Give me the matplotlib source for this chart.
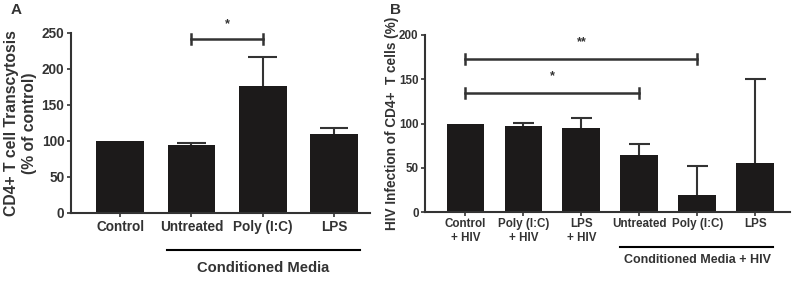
import matplotlib
matplotlib.use("Agg")
import matplotlib.pyplot as plt

plt.rcParams['font.family'] = ['Liberation Sans', 'DejaVu Sans']
plt.rcParams['font.weight'] = 'bold'

# Panel A data
a_labels = ["Control", "Untreated", "Poly (I:C)", "LPS"]
a_values = [100, 95, 177, 110]
a_err = [0, 2, 40, 8]
# Panel B data
b_labels = ["Control\n+ HIV", "Poly (I:C)\n+ HIV", "LPS\n+ HIV", "Untreated", "Poly (I:C)", "LPS"]
b_values = [100, 97, 95, 64, 19, 55]
b_err = [0, 4, 11, 13, 33, 95]

bar_color = "#1c1a1a"
axis_color = "#333333"
text_color = "#333333"

fig = plt.figure(figsize=(8, 2.82), dpi=100)

def style(ax, size, pad):
    for s in ["top", "right"]:
        ax.spines[s].set_visible(False)
    for s in ["left", "bottom"]:
        ax.spines[s].set_linewidth(1.5)
        ax.spines[s].set_color(axis_color)
    ax.tick_params(axis='both', direction='out', width=1.2, length=3, color=axis_color,
                   labelsize=size, labelcolor=text_color, pad=pad)
    for t in ax.get_yticklabels() + ax.get_xticklabels():
        t.set_fontweight('bold')

def upper_err(ax, xs, vals, errs, capw):
    for x, v, e in zip(xs, vals, errs):
        if e > 0:
            ax.vlines(x, v, v + e, color=axis_color, lw=1.5, zorder=1)
            ax.hlines(v + e, x - capw, x + capw, color=axis_color, lw=1.5, zorder=1)

# ----- Panel A -----
axA = fig.add_axes([0.089, 0.245, 0.3735, 0.638])
xa = list(range(len(a_labels)))
axA.bar(xa, a_values, width=0.67, color=bar_color, zorder=2)
upper_err(axA, xa, a_values, a_err, 0.2)
axA.set_ylim(0, 250)
axA.set_xlim(-0.687, 3.505)
axA.set_yticks([0, 50, 100, 150, 200, 250])
axA.set_xticks(xa)
axA.set_xticklabels(a_labels)
style(axA, 9.8, 2)
axA.set_ylabel("CD4+ T cell Transcytosis\n(% of control)", fontsize=11.3, fontweight='bold',
               color=text_color, labelpad=3, linespacing=1.25)
# significance
for (x0, x1, y, lab, ly) in [(1, 2, 242, "*", 262)]:
    axA.plot([x0, x1], [y, y], color=axis_color, lw=1.8, clip_on=False)
    axA.plot([x0, x0], [y - 7, y + 7], color=axis_color, lw=1.8, clip_on=False)
    axA.plot([x1, x1], [y - 7, y + 7], color=axis_color, lw=1.8, clip_on=False)
    axA.text((x0 + x1) / 2, ly, lab, ha='center', va='center', fontsize=9, color=text_color,
             clip_on=False)
# group line
axA.plot([0.66, 3.36], [-0.205 * 250, -0.205 * 250], color='black', lw=1.5, clip_on=False)
axA.text(2.0, -0.305 * 250, "Conditioned Media", ha='center', va='center', fontsize=10.6,
         fontweight='bold', color=text_color, clip_on=False)
fig.text(0.013, 0.963, "A", fontsize=11, fontweight='bold', va='center', ha='left', color=text_color)

# ----- Panel B -----
axB = fig.add_axes([0.531, 0.248, 0.4565, 0.628])
xb = list(range(len(b_labels)))
axB.bar(xb, b_values, width=0.65, color=bar_color, zorder=2)
upper_err(axB, xb, b_values, b_err, 0.18)
axB.set_ylim(0, 200)
axB.set_xlim(-0.70, 5.6)
axB.set_yticks([0, 50, 100, 150, 200])
axB.set_xticks(xb)
axB.set_xticklabels(b_labels, linespacing=1.15)
style(axB, 8.4, 1.5)
axB.set_ylabel("HIV Infection of CD4+  T cells (%)", fontsize=9.8, fontweight='bold',
               color=text_color)
axB.yaxis.set_label_coords(-0.07, 0.5)
for (x0, x1, y, lab, ly) in [(0, 4, 173, "**", 192), (0, 3, 134.5, "*", 153)]:
    axB.plot([x0, x1], [y, y], color=axis_color, lw=1.8)
    axB.plot([x0, x0], [y - 6, y + 6], color=axis_color, lw=1.8)
    axB.plot([x1, x1], [y - 6, y + 6], color=axis_color, lw=1.8)
    axB.text((x0 + x1) / 2, ly, lab, ha='center', va='center', fontsize=9, color=text_color)
axB.plot([2.67, 5.3], [-0.198 * 200, -0.198 * 200], color='black', lw=1.5, clip_on=False)
axB.text(4.0, -0.27 * 200, "Conditioned Media + HIV", ha='center', va='center', fontsize=9,
         fontweight='bold', color=text_color, clip_on=False)
fig.text(0.488, 0.963, "B", fontsize=11, fontweight='bold', va='center', ha='left', color=text_color)

fig.savefig("out.png", dpi=100)
